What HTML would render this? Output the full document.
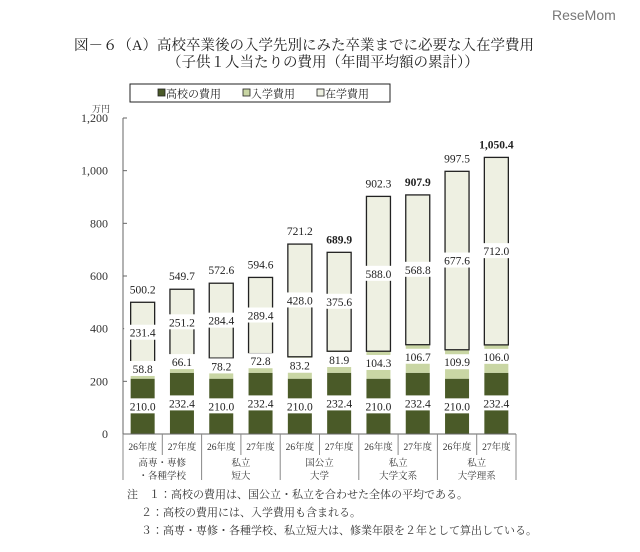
<!DOCTYPE html>
<html><head><meta charset="utf-8">
<style>
body{margin:0;background:#fff;}
svg{display:block;font-family:"Liberation Serif","Noto Serif CJK JP",serif;}
</style></head>
<body>
<svg id="chart" width="640" height="552" viewBox="0 0 640 552">
<text x="552" y="20" font-family="Liberation Sans,sans-serif" font-size="14" fill="#777">ReseMom</text>
<text x="74" y="50" font-size="14.5" fill="#222">図－６（A）高校卒業後の入学先別にみた卒業までに必要な入在学費用</text>
<text x="167" y="67" font-size="14.5" fill="#222">（子供１人当たりの費用（年間平均額の累計））</text>
<g>
<rect x="130" y="84" width="260" height="18" fill="#fff" stroke="#222" stroke-width="1"/>
<rect x="158" y="89" width="7" height="7" fill="#4a5a28" stroke="#222" stroke-width="0.8"/>
<text x="166" y="97.5" font-size="11" fill="#222">高校の費用</text>
<rect x="243" y="89" width="7" height="7" fill="#c9d6a4" stroke="#222" stroke-width="0.8"/>
<text x="251" y="97.5" font-size="11" fill="#222">入学費用</text>
<rect x="317" y="89" width="7" height="7" fill="#eef0e2" stroke="#222" stroke-width="0.8"/>
<text x="325" y="97.5" font-size="11" fill="#222">在学費用</text>
</g>
<text x="92" y="112" font-size="9" fill="#333">万円</text>
<g id="yaxis"></g><g id="bars"></g><g id="xaxis"></g>
<g font-size="11" fill="#333">
<text x="127" y="498">注　１：高校の費用は、国公立・私立を合わせた全体の平均である。</text>
<text x="141" y="516">２：高校の費用には、入学費用も含まれる。</text>
<text x="141" y="534">３：高専・専修・各種学校、私立短大は、修業年限を２年として算出している。</text>
</g>
</svg>
<script>
const years=["26年度","27年度","26年度","27年度","26年度","27年度","26年度","27年度","26年度","27年度"];
const groups=[["高専・専修","・各種学校"],["私立","短大"],["国公立","大学"],["私立","大学文系"],["私立","大学理系"]];
const highschool=[210.0,232.4,210.0,232.4,210.0,232.4,210.0,232.4,210.0,232.4];
const entrance=[58.8,66.1,78.2,72.8,83.2,81.9,104.3,106.7,109.9,106.0];
const enrollment=[231.4,251.2,284.4,289.4,428.0,375.6,588.0,568.8,677.6,712.0];
const totals=["500.2","549.7","572.6","594.6","721.2","689.9","902.3","907.9","997.5","1,050.4"];
const boldTotals=[false,false,false,false,false,true,false,true,false,true];
const yTicks=[0,200,400,600,800,1000,1200];
const yTickLabels=["0","200","400","600","800","1,000","1,200"];

const NS="http://www.w3.org/2000/svg";
const X0=123,X1=516,Y0=434,YT=118,YMAX=1200;
const slot=(X1-X0)/years.length, bw=24;
const y=v=>Y0-(v/YMAX)*(Y0-YT);
const xc=i=>X0+slot*(i+0.5);
function mk(tag,attrs,parent,txt){const e=document.createElementNS(NS,tag);for(const k in attrs)e.setAttribute(k,attrs[k]);if(txt!==undefined)e.textContent=txt;parent.appendChild(e);return e;}
const ya=document.getElementById('yaxis'),ba=document.getElementById('bars'),xa=document.getElementById('xaxis');
let ax=mk('line',{x1:X0,y1:YT,x2:X0,y2:Y0,stroke:'#666','stroke-width':1},ya);


yTicks.forEach((t,i)=>{
  let l=mk('line',{x1:X0,y1:y(t),x2:X0+4,y2:y(t),stroke:'#666'},ya);
  
  
  let tx=mk('text',{x:108,y:y(t)+4,'text-anchor':'end','font-size':12,fill:'#333'},ya,yTickLabels[i]);
  
  
});
function label(cx,cy,txt,bold){
  const w=txt.length*6.6+4;
  let r=mk('rect',{x:cx-w/2,y:cy-8,width:w,height:15,fill:'#fff'},ba);
  
  
  let t=mk('text',{x:cx,y:cy+4,'text-anchor':'middle','font-size':11.5,fill:'#222','font-weight':bold?'bold':'normal'},ba,txt);
  
  
}
years.forEach((yr,i)=>{
  const cx=xc(i),x=cx-bw/2;
  const a=highschool[i],b=a+entrance[i],c=b+enrollment[i];
  let r1=mk('rect',{x:x,y:y(a),width:bw,height:y(0)-y(a),fill:'#4a5a28'},ba);
  
  
  let r2=mk('rect',{x:x,y:y(b),width:bw,height:y(a)-y(b),fill:'#c9d6a4'},ba);
  
  
  let r3=mk('rect',{x:x,y:y(c),width:bw,height:y(b)-y(c),fill:'#eef0e2',stroke:'#222','stroke-width':1.3},ba);
  
  
  label(cx,(y(0)+y(a))/2,highschool[i].toFixed(1));
  label(cx,(y(a)+y(b))/2-2,entrance[i].toFixed(1));
  label(cx,(y(b)+y(c))/2,enrollment[i].toFixed(1));
  let tt=mk('text',{x:cx,y:y(c)-9,'text-anchor':'middle','font-size':11.5,fill:'#222','font-weight':boldTotals[i]?'bold':'normal'},ba,totals[i]);
  
  
  let yl=mk('text',{x:cx,y:450,'text-anchor':'middle','font-size':9.5,fill:'#333'},xa,yr);
  
  
});
let xl=mk('line',{x1:X0,y1:Y0,x2:X1,y2:Y0,stroke:'#666','stroke-width':1},xa);


for(let i=0;i<=years.length;i++){
  const xx=X0+slot*i, major=i%2===0;
  let l=mk('line',{x1:xx,y1:Y0,x2:xx,y2:major?480:455,stroke:'#888'},xa);
  
  
}
groups.forEach((g,i)=>{
  const cx=X0+slot*(2*i+1);
  g.forEach((s,j)=>{
    let t=mk('text',{x:cx,y:466+j*13,'text-anchor':'middle','font-size':9.5,fill:'#333'},xa,s);
    
    
  });
});
</script>
</body></html>
